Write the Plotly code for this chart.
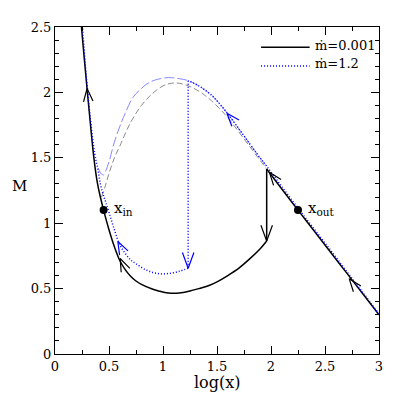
import numpy as np
import plotly.graph_objects as go

# ---- data: log(x) and Mach number M ----

# mdot = 0.001 (black solid)
blk_in_x = [0.245, 0.27, 0.30, 0.33, 0.36, 0.39, 0.42, 0.45, 0.50, 0.55, 0.60, 0.65, 0.70, 0.75,
            0.80, 0.90, 0.96, 1.05, 1.15, 1.25, 1.33, 1.42, 1.50, 1.60, 1.70, 1.80, 1.90, 1.96]
blk_in_M = [2.50, 2.27, 2.00, 1.74, 1.50, 1.32, 1.20, 1.10, 0.95, 0.82, 0.715, 0.645, 0.595, 0.558,
            0.532, 0.497, 0.482, 0.466, 0.466, 0.482, 0.50, 0.522, 0.552, 0.60, 0.655, 0.725, 0.805, 0.864]
blk_out_x = [1.96, 2.10, 2.25, 2.40, 2.55, 2.70, 2.85, 3.00]
blk_out_M = [1.414, 1.262, 1.100, 0.940, 0.780, 0.620, 0.460, 0.300]
blk_shock_x = [1.96, 1.96]
blk_shock_M = [1.414, 0.864]
blk_super_x = [0.43, 0.46, 0.50, 0.55, 0.60, 0.70, 0.80, 0.90, 1.00, 1.08, 1.15, 1.25, 1.35,
               1.45, 1.576, 1.70, 1.80, 1.90, 1.96]
blk_super_M = [1.20, 1.27, 1.38, 1.50, 1.59, 1.77, 1.90, 1.99, 2.05, 2.07, 2.07, 2.045, 2.00,
               1.935, 1.83, 1.70, 1.59, 1.48, 1.414]

# mdot = 1.2 (blue dotted)
blu_out_x = [3.00, 2.85, 2.70, 2.55, 2.40, 2.25, 2.10, 1.96, 1.88, 1.73, 1.576, 1.454, 1.331, 1.233]
blu_out_M = [0.305, 0.470, 0.632, 0.795, 0.955, 1.115, 1.280, 1.435, 1.52, 1.69, 1.861, 1.975, 2.05, 2.09]
blu_shock_x = [1.233, 1.233]
blu_shock_M = [2.09, 0.656]
blu_in_x = [1.233, 1.15, 1.05, 0.95, 0.85, 0.75, 0.70, 0.65, 0.60, 0.55, 0.505, 0.47, 0.444,
            0.42, 0.40, 0.367, 0.33, 0.30, 0.28, 0.255]
blu_in_M = [0.656, 0.632, 0.615, 0.615, 0.640, 0.690, 0.720, 0.770, 0.835, 0.950, 1.070, 1.160, 1.225,
            1.300, 1.400, 1.535, 1.780, 2.030, 2.220, 2.500]
blu_super_x = [0.40, 0.43, 0.45, 0.47, 0.50, 0.55, 0.60, 0.65, 0.72, 0.80, 0.87, 0.95, 1.05, 1.15,
               1.233, 1.331, 1.454, 1.576, 1.73, 1.88, 1.96]
blu_super_M = [1.42, 1.375, 1.37, 1.40, 1.47, 1.62, 1.74, 1.84, 1.96, 2.03, 2.075, 2.10, 2.113, 2.105,
               2.09, 2.05, 1.975, 1.861, 1.69, 1.52, 1.435]

# sonic points
sonic_x = [0.45, 2.25]
sonic_M = [1.10, 1.10]
sonic_names = ["x<sub>in</sub>", "x<sub>out</sub>"]

# flow arrows: tip x, tip M, direction (dx, dM), colour key
arrows = [
    (0.297, 2.03, (-0.11, 1.0), "k"),
    (0.603, 0.73, (-1.0, 1.8), "k"),
    (1.985, 1.39, (-1.0, 1.07), "k"),
    (2.724, 0.576, (-1.0, 1.06), "k"),
    (1.96, 0.864, (0.0, -1.0), "k"),
    (0.582, 0.86, (-1.0, 1.6), "b"),
    (1.592, 1.84, (-1.0, 0.95), "b"),
    (1.233, 0.656, (0.0, -1.0), "b"),
]

legend_labels = ["ṁ=0.001", "ṁ=1.2"]

x_ticks = [0, 0.5, 1, 1.5, 2, 2.5, 3]
x_tick_labels = ["0", "0.5", "1", "1.5", "2", "2.5", "3"]
y_ticks = [0, 0.5, 1, 1.5, 2, 2.5]
y_tick_labels = ["0", "0.5", "1", "1.5", "2", "2.5"]

FONT = "DejaVu Serif"
colors = {"k": "black", "b": "#0000ff"}

# page body adds an 8px offset, so the figure is a bit smaller than the window
W, H = 387, 387
mar = dict(l=47, r=13, t=14, b=41)
sx = (W - mar["l"] - mar["r"]) / 3.0    # px per unit of log(x)
sy = (H - mar["t"] - mar["b"]) / 2.5    # px per unit of M

fig = go.Figure()

# faint supersonic branches
fig.add_trace(go.Scatter(x=blk_super_x, y=blk_super_M, mode="lines",
                         line=dict(color="#8c8c8c", width=1, dash="6px,3px", shape="spline")))
fig.add_trace(go.Scatter(x=blu_super_x, y=blu_super_M, mode="lines",
                         line=dict(color="#8888ff", width=1, dash="10px,3px", shape="spline")))

# mdot = 0.001
fig.add_trace(go.Scatter(x=blk_in_x, y=blk_in_M, mode="lines",
                         line=dict(color="black", width=1.5, shape="spline")))
fig.add_trace(go.Scatter(x=blk_out_x, y=blk_out_M, mode="lines",
                         line=dict(color="black", width=1.5, shape="spline")))
fig.add_trace(go.Scatter(x=blk_shock_x, y=blk_shock_M, mode="lines",
                         line=dict(color="black", width=1.5)))

# mdot = 1.2
fig.add_trace(go.Scatter(x=blu_in_x, y=blu_in_M, mode="lines",
                         line=dict(color="#0000ff", width=1.5, dash="1px,2px", shape="spline")))
fig.add_trace(go.Scatter(x=blu_out_x, y=blu_out_M, mode="lines",
                         line=dict(color="#0000ff", width=1.5, dash="1px,2px", shape="spline")))
fig.add_trace(go.Scatter(x=blu_shock_x, y=blu_shock_M, mode="lines",
                         line=dict(color="#0000ff", width=1.5, dash="1px,2px")))

# arrowheads (open V), built in screen space so they keep their shape
for tx, tM, (dx, dM), c in arrows:
    vx, vy = dx * sx, dM * sy
    n = np.hypot(vx, vy)
    vx, vy = vx / n, vy / n
    L = 17 if dx == 0 else 14
    ang = np.radians(20)
    pts_x, pts_y = [], []
    for s in (1, -1):
        ca, sa = np.cos(s * ang), np.sin(s * ang)
        bx = -(vx * ca - vy * sa) * L
        by = -(vx * sa + vy * ca) * L
        pts_x.append(tx + bx / sx)
        pts_y.append(tM + by / sy)
    fig.add_trace(go.Scatter(x=[pts_x[0], tx, pts_x[1]], y=[pts_y[0], tM, pts_y[1]],
                             mode="lines", line=dict(color=colors[c], width=1.2)))

# sonic points
fig.add_trace(go.Scatter(x=sonic_x, y=sonic_M, mode="markers",
                         marker=dict(color="black", size=8, symbol="circle")))
for sxp, sM, name in zip(sonic_x, sonic_M, sonic_names):
    fig.add_annotation(x=sxp, y=sM, text=name, showarrow=False, xanchor="left",
                       xshift=8, yshift=2, font=dict(family=FONT, size=15, color="black"))

# hand-made legend in the upper right corner
for i, (lab, c, dash) in enumerate(zip(legend_labels, ["black", "#0000ff"], ["solid", "1px,2px"])):
    yy = 0.938 - i * 0.057
    fig.add_shape(type="line", xref="paper", yref="paper", x0=0.636, x1=0.786, y0=yy, y1=yy,
                  line=dict(color=c, width=1.5, dash=dash))
    fig.add_annotation(text=lab, xref="paper", yref="paper", x=0.796, y=yy + 0.006,
                       xanchor="left", yanchor="middle", showarrow=False,
                       font=dict(family=FONT, size=13, color="black"))

axis_common = dict(showline=True, linecolor="black", linewidth=1, mirror="ticks",
                   ticks="inside", ticklen=8, tickwidth=1, tickcolor="black",
                   showgrid=False, zeroline=False,
                   tickfont=dict(family=FONT, size=13, color="black"))

fig.update_xaxes(range=[0, 3], tickvals=x_ticks, ticktext=x_tick_labels,
                 minor=dict(dtick=0.25, ticks="inside", ticklen=4, tickcolor="black", showgrid=False),
                 **axis_common)
fig.update_yaxes(range=[0, 2.5], tickvals=y_ticks, ticktext=y_tick_labels,
                 minor=dict(dtick=0.1, ticks="inside", ticklen=4, tickcolor="black", showgrid=False),
                 **axis_common)

fig.add_annotation(text="M", xref="paper", yref="paper", x=-0.109, y=0.515, showarrow=False,
                   xanchor="center", yanchor="middle",
                   font=dict(family=FONT, size=15, color="black"))
fig.add_annotation(text="log(x)", xref="paper", yref="paper", x=0.5, y=-0.087, showarrow=False,
                   xanchor="center", yanchor="middle",
                   font=dict(family=FONT, size=16, color="black"))

fig.update_layout(
    width=W, height=H, margin=mar, showlegend=False,
    plot_bgcolor="white", paper_bgcolor="white",
    font=dict(family=FONT, size=13, color="black"),
)

fig.write_html("out.html")
